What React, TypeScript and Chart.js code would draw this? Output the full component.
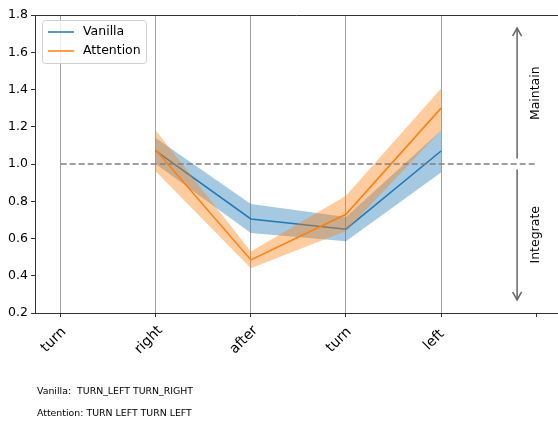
import React, { useEffect, useRef } from "react";
import { Chart, registerables } from "chart.js";

Chart.register(...registerables);

const categories = ["turn", "right", "after", "turn", "left", ""];
const positions = [0, 1, 2, 3, 4, 5];
const seriesIdx = [1, 2, 3, 4];
const vanillaMean = [1.07, 0.705, 0.65, 1.07];
const vanillaUpper = [1.14, 0.785, 0.715, 1.18];
const vanillaLower = [1.0, 0.63, 0.585, 0.955];
const attentionMean = [1.075, 0.485, 0.73, 1.3];
const attentionUpper = [1.18, 0.53, 0.83, 1.405];
const attentionLower = [0.96, 0.44, 0.64, 1.18];
const yTicks = [0.2, 0.4, 0.6, 0.8, 1.0, 1.2, 1.4, 1.6, 1.8];
const refLine = 1.0;
const arrowX = 4.8;
const maintainArrow = [1.03, 1.73];
const integrateArrow = [0.97, 0.27];
const zoneLabels = [
  { text: "Maintain", x: 5, y: 1.38 },
  { text: "Integrate", x: 5, y: 0.62 },
];
const notes = ["Vanilla:  TURN_LEFT TURN_RIGHT", "Attention: TURN LEFT TURN LEFT"];
const legendItems = [
  { label: "Vanilla", color: "#1f77b4" },
  { label: "Attention", color: "#ff7f0e" },
];

const BLUE = "#1f77b4";
const ORANGE = "#ff7f0e";
const FONT = "DejaVu Sans";

function pts(vals: number[]) {
  return vals.map((v, i) => ({ x: seriesIdx[i], y: v }));
}

function drawArrowHead(ctx: CanvasRenderingContext2D, x: number, y: number, dir: number) {
  ctx.beginPath();
  ctx.moveTo(x - 4.5, y - dir * 8);
  ctx.lineTo(x, y);
  ctx.lineTo(x + 4.5, y - dir * 8);
  ctx.stroke();
}

const overlayPlugin = {
  id: "overlay",
  afterDatasetsDraw(chart: any) {
    const ctx: CanvasRenderingContext2D = chart.ctx;
    const xs = chart.scales.x;
    const ys = chart.scales.y;
    const area = chart.chartArea;
    ctx.save();
    // dashed reference line
    ctx.strokeStyle = "#808080";
    ctx.lineWidth = 1.5;
    ctx.setLineDash([6, 3]);
    ctx.beginPath();
    ctx.moveTo(xs.getPixelForValue(0), ys.getPixelForValue(refLine));
    ctx.lineTo(xs.getPixelForValue(5), ys.getPixelForValue(refLine));
    ctx.stroke();
    ctx.setLineDash([]);

    // arrows
    ctx.strokeStyle = "#666666";
    ctx.lineWidth = 1.5;
    const ax = xs.getPixelForValue(arrowX);
    for (const [a, b] of [maintainArrow, integrateArrow]) {
      const y1 = ys.getPixelForValue(a);
      const y2 = ys.getPixelForValue(b);
      ctx.beginPath();
      ctx.moveTo(ax, y1);
      ctx.lineTo(ax, y2);
      ctx.stroke();
      drawArrowHead(ctx, ax, y2, y2 > y1 ? 1 : -1);
    }

    // zone labels
    ctx.fillStyle = "#000";
    ctx.font = `12.5px "${FONT}"`;
    ctx.textAlign = "center";
    ctx.textBaseline = "middle";
    for (const z of zoneLabels) {
      ctx.save();
      ctx.translate(xs.getPixelForValue(z.x), ys.getPixelForValue(z.y));
      ctx.rotate(-Math.PI / 2);
      ctx.fillText(z.text, 0, 0);
      ctx.restore();
    }

    // top spine
    ctx.strokeStyle = "#333";
    ctx.lineWidth = 1;
    ctx.beginPath();
    ctx.moveTo(area.left, area.top + 0.5);
    ctx.lineTo(area.right, area.top + 0.5);
    ctx.stroke();

    // x tick labels
    ctx.font = `14px "${FONT}"`;
    ctx.fillStyle = "#000";
    categories.forEach((c, i) => {
      if (!c) return;
      ctx.save();
      ctx.translate(xs.getPixelForValue(positions[i]) - 7, area.bottom + 27);
      ctx.rotate(-Math.PI / 4);
      ctx.fillText(c, 0, 0);
      ctx.restore();
    });

    // notes
    ctx.font = `9.4px "${FONT}"`;
    ctx.textAlign = "left";
    ctx.textBaseline = "middle";
    notes.forEach((n, i) => {
      ctx.fillText(n, 37, 392 + i * 22);
    });

    // legend
    const lx = 42.5, ly = 20.5, lw = 104, lh = 43;
    ctx.fillStyle = "rgba(255,255,255,0.8)";
    ctx.strokeStyle = "#d0d0d0";
    ctx.lineWidth = 1;
    ctx.beginPath();
    const r = 3;
    ctx.moveTo(lx + r, ly);
    ctx.lineTo(lx + lw - r, ly);
    ctx.arcTo(lx + lw, ly, lx + lw, ly + r, r);
    ctx.lineTo(lx + lw, ly + lh - r);
    ctx.arcTo(lx + lw, ly + lh, lx + lw - r, ly + lh, r);
    ctx.lineTo(lx + r, ly + lh);
    ctx.arcTo(lx, ly + lh, lx, ly + lh - r, r);
    ctx.lineTo(lx, ly + r);
    ctx.arcTo(lx, ly, lx + r, ly, r);
    ctx.closePath();
    ctx.fill();
    ctx.stroke();
    ctx.font = `12.5px "${FONT}"`;
    legendItems.forEach((it, i) => {
      const yy = 32 + i * 19;
      ctx.strokeStyle = it.color;
      ctx.lineWidth = 1.5;
      ctx.beginPath();
      ctx.moveTo(48, yy);
      ctx.lineTo(74, yy);
      ctx.stroke();
      ctx.fillStyle = "#000";
      ctx.fillText(it.label, 83, yy);
    });
    ctx.restore();
  },
};

export default function App() {
  const ref = useRef<HTMLCanvasElement | null>(null);
  useEffect(() => {
    if (!ref.current) return;
    const bandCommon = { borderWidth: 0, pointRadius: 0, tension: 0 };
    const chart = new Chart(ref.current, {
      type: "line",
      data: {
        datasets: [
          { label: "attLine", data: pts(attentionMean), borderColor: ORANGE, borderWidth: 1.5, pointRadius: 0, fill: false, order: 0 },
          { label: "attUpper", data: pts(attentionUpper), backgroundColor: "rgba(255,127,14,0.4)", fill: "+1", order: 1, ...bandCommon },
          { label: "attLower", data: pts(attentionLower), fill: false, order: 1, ...bandCommon },
          { label: "vanLine", data: pts(vanillaMean), borderColor: BLUE, borderWidth: 1.5, pointRadius: 0, fill: false, order: 2 },
          { label: "vanUpper", data: pts(vanillaUpper), backgroundColor: "rgba(31,119,180,0.4)", fill: "+1", order: 3, ...bandCommon },
          { label: "vanLower", data: pts(vanillaLower), fill: false, order: 3, ...bandCommon },
        ] as any,
      },
      options: {
        animation: false,
        responsive: false,
        devicePixelRatio: 1,
        layout: { padding: { top: 15, left: 0, right: 0, bottom: 0 } },
        plugins: { legend: { display: false }, tooltip: { enabled: false } },
        elements: { line: { tension: 0 } },
        scales: {
          x: {
            type: "linear",
            min: -0.27,
            max: 5.23,
            afterBuildTicks: (s: any) => {
              s.ticks = positions.map((v) => ({ value: v }));
            },
            afterFit: (s: any) => {
              s.height = 108;
            },
            ticks: { display: false },
            grid: {
              color: (c: any) => (c.tick && c.tick.value === 5 ? "rgba(0,0,0,0)" : "#a0a0a0"),
              lineWidth: 1,
              tickColor: "#333",
              tickLength: 4,
              drawTicks: true,
            },
            border: { display: true, color: "#333", width: 1 },
          },
          y: {
            type: "linear",
            min: 0.2,
            max: 1.8,
            afterBuildTicks: (s: any) => {
              s.ticks = yTicks.map((v) => ({ value: v }));
            },
            afterFit: (s: any) => {
              s.width = 35;
            },
            ticks: {
              callback: (v: any) => Number(v).toFixed(1),
              color: "#000",
              font: { family: FONT, size: 12.5 },
              padding: 3,
            },
            grid: { drawOnChartArea: false, tickColor: "#333", tickLength: 4 },
            border: { display: true, color: "#333", width: 1 },
          },
        },
      } as any,
      plugins: [overlayPlugin],
    });
    return () => chart.destroy();
  }, []);
  return (
    <div style={{ position: "fixed", left: 0, top: 0, width: 558, height: 421, background: "#fff", overflow: "hidden" }}>
      <canvas ref={ref} width={558} height={421} />
    </div>
  );
}
